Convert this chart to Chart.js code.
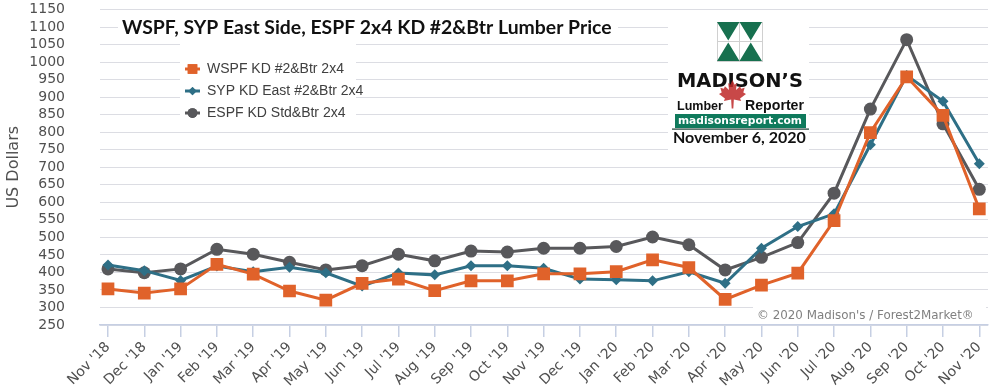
<!DOCTYPE html>
<html>
<head>
<meta charset="utf-8">
<script src="https://cdn.jsdelivr.net/npm/chart.js@4.4.1/dist/chart.umd.min.js"></script>
<style>
  html, body { margin: 0; padding: 0; background: #ffffff; }
  #wrap { width: 1000px; height: 392px; position: relative; }
</style>
</head>
<body>
<div id="wrap"><canvas id="c" width="1000" height="392"></canvas></div>
<script>
// ---- data ----
const categories = ["Nov '18","Dec '18","Jan '19","Feb '19","Mar '19","Apr '19","May '19","Jun '19","Jul '19","Aug '19","Sep '19","Oct '19","Nov '19","Dec '19","Jan '20","Feb '20","Mar '20","Apr '20","May '20","Jun '20","Jul '20","Aug '20","Sep '20","Oct '20","Nov '20"];
const wspf = [353,341,353,423,395,347,321,369,381,348,376,376,396,396,402,436,414,323,364,398,548,799,958,848,581];
const syp  = [421,405,377,418,402,415,399,361,398,393,419,419,412,381,379,376,402,369,469,531,567,764,962,888,710];
const espf = [410,399,410,466,452,429,407,419,452,433,461,458,469,469,474,501,479,407,443,485,626,866,1064,824,637];
const seriesNames = ["WSPF KD #2&Btr 2x4", "SYP KD East #2&Btr 2x4", "ESPF KD Std&Btr 2x4"];
const yTicks = { min: 250, max: 1150, step: 50 };
const titleText = "WSPF, SYP East Side, ESPF 2x4 KD #2&Btr Lumber Price";
const yTitle = "US Dollars";
const credit = "\u00A9 2020 Madison's / Forest2Market\u00AE";
const reportDate = "November 6, 2020";

const COL_O = '#e0622a', COL_B = '#2e6f86', COL_G = '#58585b';

function toXY(arr) { return arr.map((v, i) => ({ x: i, y: v })); }

function fitFont(ctx, text, weight, family, width) {
  ctx.font = weight + ' 100px ' + family;
  const w = ctx.measureText(text).width;
  const size = 100 * width / w;
  return weight + ' ' + size.toFixed(2) + 'px ' + family;
}

const overlay = {
  id: 'overlay',
  beforeDatasetsDraw(chart) {
    const ctx = chart.ctx;
    ctx.save();
    // title
    ctx.fillStyle = '#ffffff';
    ctx.fillRect(118, 16, 500, 26);
    ctx.fillStyle = '#111111';
    ctx.font = fitFont(ctx, titleText, 'bold', 'Lato', 490);
    ctx.textBaseline = 'alphabetic';
    ctx.textAlign = 'left';
    ctx.fillText(titleText, 122, 34);

    // legend box
    ctx.fillStyle = '#ffffff';
    ctx.fillRect(180, 42, 176, 80);
    const rows = [69, 91, 113];
    chart.data.datasets.forEach((ds, i) => {
      const y = rows[i];
      ctx.strokeStyle = ds.borderColor;
      ctx.lineWidth = 3;
      ctx.beginPath(); ctx.moveTo(185, y); ctx.lineTo(200, y); ctx.stroke();
      ctx.fillStyle = ds.borderColor;
      Chart.helpers.drawPoint(ctx, { pointStyle: ds.pointStyle, radius: ds.pointRadius * 0.75, borderWidth: 0 }, 192.5, y);
      ctx.fill();
      ctx.fillStyle = '#404040';
      ctx.font = '14px "Liberation Sans", Arial, sans-serif';
      ctx.textBaseline = 'middle';
      ctx.fillText(ds.label, 207, y);
    });

    // logo box
    ctx.fillStyle = '#ffffff';
    ctx.fillRect(668, 14, 141, 145);
    // emblem
    const ex = 717, ey = 22, ew = 45, eh = 39;
    ctx.strokeStyle = '#d0d0d0'; ctx.lineWidth = 1;
    ctx.strokeRect(ex + 0.5, ey + 0.5, ew, eh);
    ctx.beginPath(); ctx.moveTo(ex + ew / 2, ey); ctx.lineTo(ex + ew / 2, ey + eh);
    ctx.moveTo(ex, ey + eh / 2); ctx.lineTo(ex + ew, ey + eh / 2); ctx.stroke();
    ctx.fillStyle = '#17704f';
    ctx.beginPath();
    ctx.moveTo(ex, ey); ctx.lineTo(ex + ew / 2, ey); ctx.lineTo(ex + ew / 4, ey + eh / 2 - 1); ctx.closePath();
    ctx.moveTo(ex + ew / 2, ey); ctx.lineTo(ex + ew, ey); ctx.lineTo(ex + 3 * ew / 4, ey + eh / 2 - 1); ctx.closePath();
    ctx.moveTo(ex, ey + eh); ctx.lineTo(ex + ew / 2, ey + eh); ctx.lineTo(ex + ew / 4, ey + eh / 2 + 1); ctx.closePath();
    ctx.moveTo(ex + ew / 2, ey + eh); ctx.lineTo(ex + ew, ey + eh); ctx.lineTo(ex + 3 * ew / 4, ey + eh / 2 + 1); ctx.closePath();
    ctx.fill();
    // name
    ctx.fillStyle = '#111111';
    ctx.textBaseline = 'alphabetic';
    ctx.font = fitFont(ctx, "MADISON\u2019S", '900', '"DejaVu Sans"', 126);
    ctx.fillText("MADISON\u2019S", 677, 87);
    // maple leaf
    const leaf = [[50,0],[58,15],[66,10],[63,32],[78,20],[82,28],[95,25],[90,40],[100,45],[78,60],[82,68],[55,63],[53,92],[47,92],[45,63],[18,68],[22,60],[0,45],[10,40],[5,25],[18,28],[22,20],[37,32],[34,10],[42,15]];
    ctx.fillStyle = 'rgba(190,40,40,0.85)';
    ctx.beginPath();
    leaf.forEach((p, i) => {
      const px = 719 + p[0] * 0.27, py = 80 + p[1] * 0.31;
      if (i === 0) ctx.moveTo(px, py); else ctx.lineTo(px, py);
    });
    ctx.closePath(); ctx.fill();
    ctx.fillStyle = '#111111';
    ctx.font = fitFont(ctx, 'Lumber', 'bold', '"Liberation Sans"', 46);
    ctx.fillText('Lumber', 677, 110);
    ctx.font = fitFont(ctx, 'Reporter', 'bold', '"Liberation Sans"', 59);
    ctx.fillText('Reporter', 745, 110);
    // green bar
    ctx.fillStyle = '#0f7a5c';
    ctx.fillRect(675, 114, 131, 14);
    ctx.fillStyle = '#ffffff';
    ctx.font = fitFont(ctx, 'madisonsreport.com', 'bold', '"DejaVu Sans"', 124);
    ctx.textBaseline = 'middle';
    ctx.fillText('madisonsreport.com', 678, 121);
    ctx.fillStyle = '#1d3d33';
    ctx.fillRect(672, 128.5, 137, 1.2);
    ctx.fillStyle = '#111111';
    ctx.textBaseline = 'alphabetic';
    ctx.font = fitFont(ctx, reportDate, 'bold', 'Lato', 133);
    ctx.fillText(reportDate, 673, 143);

    // credit
    ctx.fillStyle = '#ffffff';
    ctx.fillRect(753, 306, 233, 17);
    ctx.fillStyle = '#808080';
    ctx.font = fitFont(ctx, credit, 'normal', '"DejaVu Sans"', 217);
    ctx.textBaseline = 'middle';
    ctx.fillText(credit, 757, 316);
    ctx.restore();
  }
};

const ctx = document.getElementById('c').getContext('2d');
new Chart(ctx, {
  type: 'line',
  data: {
    datasets: [
      { label: seriesNames[0], data: toXY(wspf), borderColor: COL_O, backgroundColor: COL_O, pointStyle: 'rect', pointRadius: 9, pointBorderWidth: 0, borderWidth: 3, tension: 0 },
      { label: seriesNames[1], data: toXY(syp),  borderColor: COL_B, backgroundColor: COL_B, pointStyle: 'rectRot', pointRadius: 5.5, pointBorderWidth: 0, borderWidth: 3, tension: 0 },
      { label: seriesNames[2], data: toXY(espf), borderColor: COL_G, backgroundColor: COL_G, pointStyle: 'circle', pointRadius: 6.5, pointBorderWidth: 0, borderWidth: 3, tension: 0 }
    ]
  },
  options: {
    responsive: false,
    animation: false,
    layout: { padding: { top: 9.5, right: 12, left: 0, bottom: 0 } },
    plugins: { legend: { display: false }, tooltip: { enabled: false }, title: { display: false } },
    scales: {
      x: {
        type: 'linear',
        min: -0.22, max: 24.24,
        afterBuildTicks: (s) => { s.ticks = categories.map((_, i) => ({ value: i })); },
        afterFit: (s) => { s.height = 67; },
        grid: { drawOnChartArea: false, drawTicks: true, tickLength: 12, tickColor: '#c6cfe3', lineWidth: 1.5 },
        border: { display: true, color: '#c6cfe3', width: 1.5 },
        ticks: {
          autoSkip: false, minRotation: 45, maxRotation: 45, padding: 2,
          color: '#505050', font: { family: '"DejaVu Sans"', size: 14 },
          callback: (v) => categories[Math.round(v)]
        }
      },
      y: {
        min: yTicks.min, max: yTicks.max,
        afterFit: (s) => { s.width = 100; },
        grid: { color: '#dcdde3', lineWidth: 1, drawTicks: true, tickLength: 35, tickColor: 'rgba(0,0,0,0)' },
        border: { display: false },
        ticks: { stepSize: yTicks.step, autoSkip: false, padding: 0, color: '#505050', font: { family: '"DejaVu Sans"', size: 14 }, callback: (v) => String(v) },
        title: { display: true, text: yTitle, color: '#505050', font: { family: '"DejaVu Sans"', size: 16 }, padding: { top: 4, bottom: 0 } }
      }
    }
  },
  plugins: [overlay]
});
</script>
</body>
</html>
